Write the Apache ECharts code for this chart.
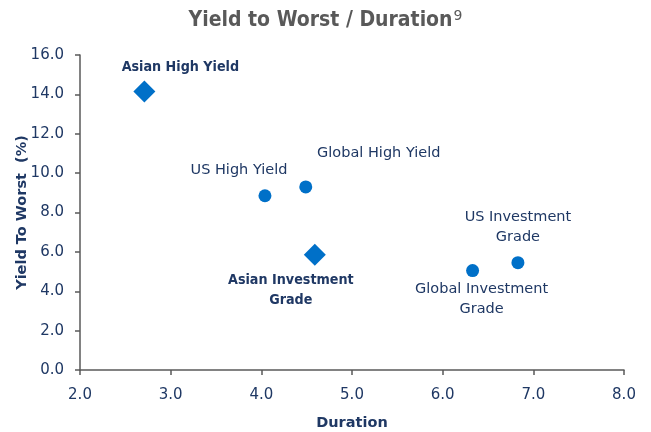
<!DOCTYPE html>
<html>
<head>
<meta charset="utf-8">
<script src="https://cdn.jsdelivr.net/npm/echarts@6/dist/echarts.min.js"></script>
<style>
  html, body { margin: 0; padding: 0; background: #fff; }
  #chart { width: 651px; height: 432px; }
</style>
</head>
<body>
<div id="chart"></div>
<script>
// data
var names = ['Asian High Yield', 'US High Yield', 'Global High Yield', 'Asian Investment\nGrade', 'Global Investment\nGrade', 'US Investment\nGrade'];
var duration = [2.71, 4.04, 4.49, 4.59, 6.33, 6.83];
var ytw = [14.15, 8.85, 9.3, 5.85, 5.05, 5.45];
var isAsian = [true, false, false, true, false, false];
var xTicks = [2, 3, 4, 5, 6, 7, 8];
var yTicks = [0, 2, 4, 6, 8, 10, 12, 14, 16];

var FONT = 'DejaVu Sans';
var FONT_B = 'DejaVu Sans Condensed';
var NAVY = '#1f3864';
var BLUE = '#0070c8';

// label placement per point [dx, dy] from marker centre
var labelOffset = [[36, -24], [-26, -26], [73, -34], [-24, 35], [9, 29], [0, -35]];

var asianPts = [], otherPts = [];
for (var i = 0; i < names.length; i++) {
  var item = {
    name: names[i],
    value: [duration[i], ytw[i]],
    label: {
      show: true,
      formatter: names[i],
      position: 'inside',
      offset: labelOffset[i],
      color: NAVY,
      fontFamily: isAsian[i] ? FONT_B : FONT,
      fontSize: isAsian[i] ? 14.2 : 14.5,
      fontWeight: isAsian[i] ? 'bold' : 'normal',
      lineHeight: 20,
      align: 'center'
    }
  };
  (isAsian[i] ? asianPts : otherPts).push(item);
}

var tickFmt = function (v) { return v.toFixed(1); };

var chart = echarts.init(document.getElementById('chart'));
chart.setOption({
  animation: false,
  title: {
    text: 'Yield to Worst / Duration{sup|9}',
    left: 'center',
    top: 4,
    textStyle: {
      color: '#595959',
      fontFamily: FONT_B,
      fontSize: 21,
      fontWeight: 'bold',
      rich: {
        sup: { fontSize: 14, color: '#595959', fontFamily: FONT, fontWeight: 'normal', verticalAlign: 'top', padding: [0, 0, 9, 1] }
      }
    }
  },
  grid: { left: 80, right: 27, top: 55, bottom: 62, containLabel: false, outerBoundsMode: 'none' },
  xAxis: {
    type: 'value',
    min: xTicks[0],
    max: xTicks[xTicks.length - 1],
    interval: 1,
    name: 'Duration',
    nameLocation: 'middle',
    nameGap: 46,
    nameMoveOverlap: false,
    nameTextStyle: { color: NAVY, fontFamily: FONT, fontSize: 14.5, fontWeight: 'bold' },
    axisLine: { show: true, onZero: false, lineStyle: { color: '#595959', width: 1.5 } },
    axisTick: { show: true, length: 5, lineStyle: { color: '#595959', width: 1.5 } },
    splitLine: { show: false },
    axisLabel: { color: NAVY, fontFamily: FONT, fontSize: 15, margin: 18, formatter: tickFmt }
  },
  yAxis: {
    type: 'value',
    min: yTicks[0],
    max: yTicks[yTicks.length - 1],
    interval: 2,
    name: 'Yield To Worst  (%)',
    nameLocation: 'middle',
    nameGap: 50,
    nameMoveOverlap: false,
    nameTextStyle: { color: NAVY, fontFamily: FONT, fontSize: 14.5, fontWeight: 'bold' },
    axisLine: { show: true, lineStyle: { color: '#595959', width: 1.5 } },
    axisTick: { show: true, length: 5, lineStyle: { color: '#595959', width: 1.5 } },
    splitLine: { show: false },
    axisLabel: { color: NAVY, fontFamily: FONT, fontSize: 15, margin: 16, formatter: tickFmt }
  },
  series: [
    {
      type: 'scatter',
      symbol: 'diamond',
      symbolSize: 22,
      itemStyle: { color: BLUE, opacity: 1 },
      data: asianPts
    },
    {
      type: 'scatter',
      symbol: 'circle',
      symbolSize: 13,
      itemStyle: { color: BLUE, opacity: 1 },
      data: otherPts
    }
  ]
});
</script>
</body>
</html>
